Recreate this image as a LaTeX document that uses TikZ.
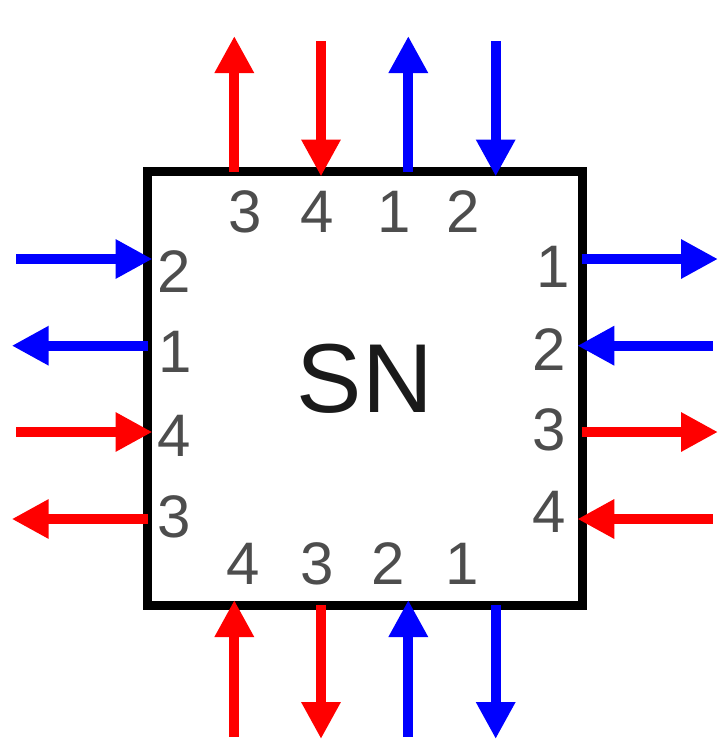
\documentclass[tikz,border=0pt]{standalone}
\usepackage{fontspec}
\setmainfont{Liberation Sans}
\usetikzlibrary{arrows.meta}
\definecolor{digitgray}{HTML}{4D4D4D}
\definecolor{sntext}{HTML}{1A1A1A}
\tikzset{
  redarrow/.style={draw={rgb,255:red,255;green,0;blue,0}, line width=10pt, -{Triangle[length=37pt,width=37pt]}},
  bluearrow/.style={draw={rgb,255:red,0;green,0;blue,255}, line width=10pt, -{Triangle[length=37pt,width=37pt]}},
  portlabel/.style={inner sep=0pt, text=digitgray, font=\fontsize{60}{60}\selectfont},
  boxline/.style={draw=black, line width=9pt}
}
\begin{document}
\begin{tikzpicture}[x=1pt,y=-1pt]
\useasboundingbox (0,0) rectangle (724,740);
% box
\draw[boxline] (147,171) rectangle (582.5,605);
\node[inner sep=0pt, text=sntext, font=\fontsize{98}{98}\selectfont] (sn) at (365,379) {SN};
% coordinates: top
\coordinate (t1a) at (234.3,171.7); \coordinate (t1b) at (234.3,36);
\coordinate (t2a) at (321,41);      \coordinate (t2b) at (321,176.5);
\coordinate (t3a) at (408.3,171.7); \coordinate (t3b) at (408.3,36);
\coordinate (t4a) at (495.7,41);    \coordinate (t4b) at (495.7,176.5);
% left
\coordinate (l1a) at (16,259);      \coordinate (l1b) at (152.5,259);
\coordinate (l2a) at (147.7,345.7); \coordinate (l2b) at (11.7,345.7);
\coordinate (l3a) at (16,432);      \coordinate (l3b) at (152.5,432);
\coordinate (l4a) at (147.7,519);   \coordinate (l4b) at (11.7,519);
% right
\coordinate (r1a) at (581.7,259);   \coordinate (r1b) at (718,259);
\coordinate (r2a) at (712.7,345.7); \coordinate (r2b) at (577.3,345.7);
\coordinate (r3a) at (581.7,432);   \coordinate (r3b) at (718,432);
\coordinate (r4a) at (712.7,519);   \coordinate (r4b) at (577.3,519);
% bottom
\coordinate (b1a) at (234.3,736.7); \coordinate (b1b) at (234.3,600);
\coordinate (b2a) at (321,605);     \coordinate (b2b) at (321,739);
\coordinate (b3a) at (408.3,736.7); \coordinate (b3b) at (408.3,600);
\coordinate (b4a) at (495.7,605);   \coordinate (b4b) at (495.7,739);
% arrows
\draw[redarrow] (t1a) -- (t1b);
\draw[redarrow] (t2a) -- (t2b);
\draw[bluearrow] (t3a) -- (t3b);
\draw[bluearrow] (t4a) -- (t4b);
\draw[bluearrow] (l1a) -- (l1b);
\draw[bluearrow] (l2a) -- (l2b);
\draw[redarrow] (l3a) -- (l3b);
\draw[redarrow] (l4a) -- (l4b);
\draw[bluearrow] (r1a) -- (r1b);
\draw[bluearrow] (r2a) -- (r2b);
\draw[redarrow] (r3a) -- (r3b);
\draw[redarrow] (r4a) -- (r4b);
\draw[redarrow] (b1a) -- (b1b);
\draw[redarrow] (b2a) -- (b2b);
\draw[bluearrow] (b3a) -- (b3b);
\draw[bluearrow] (b4a) -- (b4b);
% labels top
\node[portlabel] (lt3) at (245,212) {3};
\node[portlabel] (lt4) at (317.5,212) {4};
\node[portlabel] (lt1) at (394,212) {1};
\node[portlabel] (lt2) at (463,212) {2};
% labels left
\node[portlabel] (ll2) at (174,272) {2};
\node[portlabel] (ll1) at (174.7,352) {1};
\node[portlabel] (ll4) at (174,436) {4};
\node[portlabel] (ll3) at (174,517) {3};
% labels right
\node[portlabel] (lr1) at (553,267) {1};
\node[portlabel] (lr2) at (549,350) {2};
\node[portlabel] (lr3) at (549,430) {3};
\node[portlabel] (lr4) at (549,512) {4};
% labels bottom
\node[portlabel] (lb4) at (243,564) {4};
\node[portlabel] (lb3) at (317,564) {3};
\node[portlabel] (lb2) at (388,564) {2};
\node[portlabel] (lb1) at (462,564) {1};
\end{tikzpicture}
\end{document}
